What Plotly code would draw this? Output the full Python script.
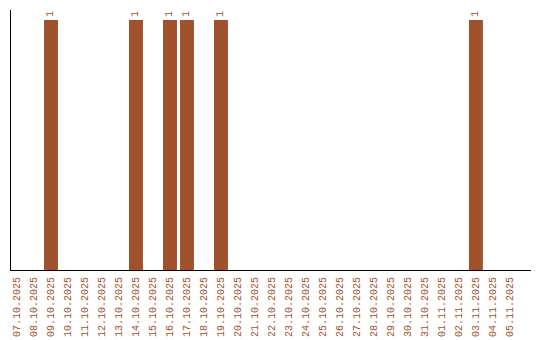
import plotly.graph_objects as go

dates = ["07.10.2025", "08.10.2025", "09.10.2025", "10.10.2025", "11.10.2025",
         "12.10.2025", "13.10.2025", "14.10.2025", "15.10.2025", "16.10.2025",
         "17.10.2025", "18.10.2025", "19.10.2025", "20.10.2025", "21.10.2025",
         "22.10.2025", "23.10.2025", "24.10.2025", "25.10.2025", "26.10.2025",
         "27.10.2025", "28.10.2025", "29.10.2025", "30.10.2025", "31.10.2025",
         "01.11.2025", "02.11.2025", "03.11.2025", "04.11.2025", "05.11.2025"]
counts = [0, 0, 1, 0, 0, 0, 0, 1, 0, 1, 1, 0, 1, 0, 0,
          0, 0, 0, 0, 0, 0, 0, 0, 0, 0, 0, 0, 1, 0, 0]

color = "#A0522D"
labels = [str(v) if v else "" for v in counts]

fig = go.Figure(go.Bar(
    x=dates, y=counts, marker_color=color, marker_line_width=0, width=0.82,
    text=labels, textposition="outside", textangle=-90,
    textfont=dict(family="Liberation Mono", size=10, color=color),
    cliponaxis=False, hoverinfo="skip",
))
fig.update_layout(
    width=540, height=340, margin=dict(l=11, r=9, t=10, b=70),
    paper_bgcolor="white", plot_bgcolor="white", showlegend=False,
)
fig.update_xaxes(type="category", range=[-0.353, 30.24], tickangle=-90,
                 tickfont=dict(family="Liberation Mono", size=10, color=color),
                 showgrid=False, showline=True, linecolor="black", linewidth=1,
                 ticks="outside", ticklen=2, tickcolor="rgba(0,0,0,0)", automargin=False)
fig.update_yaxes(range=[0, 1.04], showgrid=False, showticklabels=False, automargin=False,
                 showline=True, linecolor="black", linewidth=1, zeroline=False, ticks="")
fig.write_html("out.html")
